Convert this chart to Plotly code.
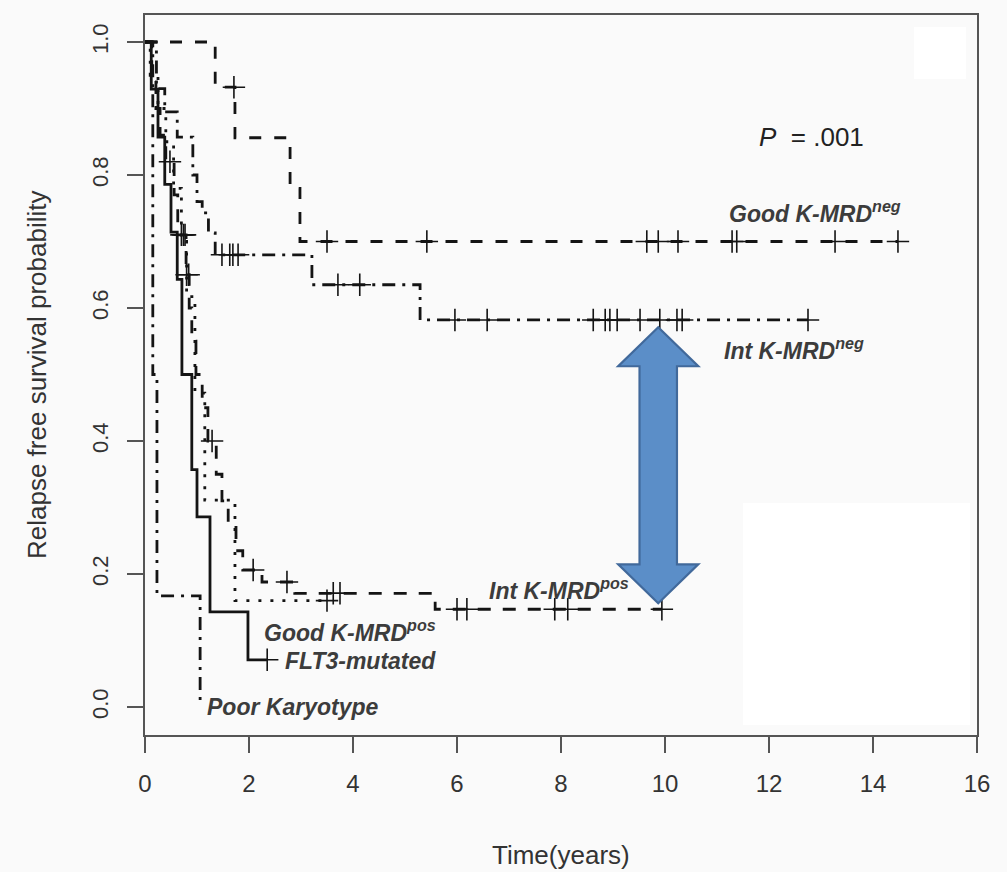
import numpy as np
import plotly.graph_objects as go

# ---------------- data ----------------
good_neg_times = [1.35, 1.73, 2.79, 2.98]
good_neg_surv = [0.932, 0.856, 0.78, 0.70]
good_neg_cens = [1.71, 3.5, 5.42, 9.65, 9.87, 10.25, 11.29, 11.38, 13.27, 14.48]

int_neg_times = [0.22, 0.38, 0.62, 0.92, 1.0, 1.1, 1.22, 1.35, 3.21, 5.29]
int_neg_surv = [0.93, 0.895, 0.857, 0.80, 0.76, 0.743, 0.713, 0.68, 0.635, 0.582]
int_neg_cens = [1.48, 1.63, 1.69, 1.79, 3.71, 4.13, 5.96, 6.58, 8.62, 8.85, 8.94,
                9.08, 9.52, 9.90, 10.23, 10.33, 12.75]

int_pos_times = [0.13, 0.21, 0.29, 0.40, 0.56, 0.63, 0.79, 0.85, 0.90, 0.98, 1.10,
                 1.21, 1.37, 1.48, 1.60, 1.75, 1.88, 2.25, 2.88, 5.58]
int_pos_surv = [0.95, 0.90, 0.86, 0.82, 0.77, 0.71, 0.65, 0.60, 0.55, 0.50, 0.45,
                0.40, 0.35, 0.31, 0.27, 0.235, 0.206, 0.188, 0.171, 0.147]
int_pos_cens = [0.48, 0.70, 0.74, 0.77, 0.80, 0.84, 1.29, 2.08, 2.73, 3.62, 3.75,
                6.0, 6.19, 7.88, 8.13, 9.94]

good_pos_times = [0.10, 0.25, 0.40, 0.55, 0.70, 0.80, 0.96, 1.15, 1.73]
good_pos_surv = [0.95, 0.90, 0.85, 0.78, 0.70, 0.617, 0.472, 0.311, 0.16]
good_pos_cens = [3.5]

flt3_times = [0.12, 0.25, 0.38, 0.50, 0.62, 0.71, 0.90, 1.0, 1.25, 1.98]
flt3_surv = [0.929, 0.857, 0.786, 0.714, 0.643, 0.5, 0.357, 0.286, 0.143, 0.071]
flt3_cens = [2.35]

poor_times = [0.15, 0.23, 1.06]
poor_surv = [0.5, 0.167, 0.0]
poor_cens = []

x_ticks = [0, 2, 4, 6, 8, 10, 12, 14, 16]
y_ticks = [0.0, 0.2, 0.4, 0.6, 0.8, 1.0]
y_tick_labels = ["0.0", "0.2", "0.4", "0.6", "0.8", "1.0"]

p_value_text = "<i>P</i>  = .001"
x_title = "Time(years)"
y_title = "Relapse free survival probability"

# ---------------- figure ----------------
LINE = "#141414"
fig = go.Figure()

curves = [
    (good_neg_times, good_neg_surv, good_neg_cens, "12px,13px"),
    (int_neg_times, int_neg_surv, int_neg_cens, "13px,7px,3px,7px"),
    (int_pos_times, int_pos_surv, int_pos_cens, "13px,12px"),
    (good_pos_times, good_pos_surv, good_pos_cens, "3px,9px"),
    (flt3_times, flt3_surv, flt3_cens, "solid"),
    (poor_times, poor_surv, poor_cens, "13px,7px,3px,7px"),
]


def step_value(times, surv, t):
    idx = np.searchsorted(np.array(times), t, side="right") - 1
    return 1.0 if idx < 0 else surv[idx]


for times, surv, cens, dash in curves:
    xs = [0.0] + list(times)
    ys = [1.0] + list(surv)
    if cens and max(cens) > xs[-1]:
        xs.append(max(cens))
        ys.append(ys[-1])
    fig.add_trace(go.Scatter(x=xs, y=ys, mode="lines", line_shape="hv",
                             line=dict(color=LINE, width=2.8, dash=dash),
                             showlegend=False, hoverinfo="skip"))
    if cens:
        cy = [step_value(times, surv, c) for c in cens]
        fig.add_trace(go.Scatter(x=cens, y=cy, mode="markers",
                                 marker=dict(symbol="cross-thin", size=16,
                                             line=dict(color=LINE, width=1.6)),
                                 showlegend=False, hoverinfo="skip"))

# white patches seen in the reference background
shapes = [
    dict(type="rect", xref="paper", yref="paper", layer="below",
         x0=(914 - 145) / 832, x1=(966 - 145) / 832,
         y0=(735 - 79) / 720, y1=(735 - 27) / 720,
         fillcolor="white", line=dict(width=0)),
    dict(type="rect", xref="paper", yref="paper", layer="below",
         x0=(743 - 145) / 832, x1=(970 - 145) / 832,
         y0=(735 - 725) / 720, y1=(735 - 503) / 720,
         fillcolor="white", line=dict(width=0)),
]

# double-headed blue arrow
cx, top, bot = 9.87, 0.571, 0.156
hw, sw, hh = 0.77, 0.36, 0.0586
pts = [(cx, top), (cx + hw, top - hh), (cx + sw, top - hh), (cx + sw, bot + hh),
       (cx + hw, bot + hh), (cx, bot), (cx - hw, bot + hh), (cx - sw, bot + hh),
       (cx - sw, top - hh), (cx - hw, top - hh)]
path = "M " + " L ".join(f"{px},{py}" for px, py in pts) + " Z"
shapes.append(dict(type="path", xref="x", yref="y", path=path,
                   fillcolor="#5b8ec8", line=dict(color="#41699b", width=2.2),
                   layer="above"))

LBL = dict(family="Liberation Sans, Arial, sans-serif", size=23, color="#3c3c3c")
labels = [
    (11.19, 0.744, "<b><i>Good K-MRD<sup>neg</sup></i></b>"),
    (11.10, 0.538, "<b><i>Int K-MRD<sup>neg</sup></i></b>"),
    (6.58, 0.178, "<b><i>Int K-MRD<sup>pos</sup></i></b>"),
    (2.25, 0.114, "<b><i>Good K-MRD<sup>pos</sup></i></b>"),
    (2.65, 0.069, "<b><i>FLT3-mutated</i></b>"),
    (1.15, 0.0, "<b><i>Poor Karyotype</i></b>"),
]
annotations = [dict(x=x, y=y, xref="x", yref="y", text=t, showarrow=False,
                    xanchor="left", yanchor="middle", font=LBL)
               for x, y, t in labels]
annotations.append(dict(x=11.77, y=0.857, xref="x", yref="y", text=p_value_text,
                        showarrow=False, xanchor="left", yanchor="middle",
                        font=dict(family="Liberation Sans, Arial, sans-serif",
                                  size=26, color="#222")))

TITLE_FONT = dict(family="Liberation Sans, Arial, sans-serif", size=26, color="#333")
annotations.append(dict(x=0.5, y=0, xref="paper", yref="paper", text=x_title,
                        showarrow=False, xanchor="center", yanchor="middle",
                        yshift=-120, font=TITLE_FONT))
annotations.append(dict(x=0, y=0.5, xref="paper", yref="paper", text=y_title,
                        showarrow=False, xanchor="center", yanchor="middle",
                        textangle=-90, xshift=-108, font=TITLE_FONT))

TICK_FONT = dict(family="Liberation Sans, Arial, sans-serif", size=24, color="#333")

fig.update_layout(
    width=1007, height=872,
    margin=dict(l=145, r=30, t=15, b=137),
    paper_bgcolor="#fafafa", plot_bgcolor="#fafafa",
    shapes=shapes, annotations=annotations,
    xaxis=dict(range=[0, 16], tickvals=x_ticks, ticks="outside", ticklen=16,
               tickwidth=2, tickcolor="#555", showline=True, linecolor="#555",
               linewidth=2, mirror=True, showgrid=False, zeroline=False,
               tickfont=TICK_FONT, ticklabelstandoff=10),
    yaxis=dict(range=[-0.0421, 1.0406], tickvals=y_ticks, ticktext=y_tick_labels,
               tickangle=-90, ticks="outside", ticklen=16, tickwidth=2,
               tickcolor="#555", showline=True, linecolor="#555", linewidth=2,
               mirror=True, showgrid=False, zeroline=False,
               tickfont=dict(TICK_FONT, size=22), ticklabelstandoff=10),
)

fig.write_html("out.html")
